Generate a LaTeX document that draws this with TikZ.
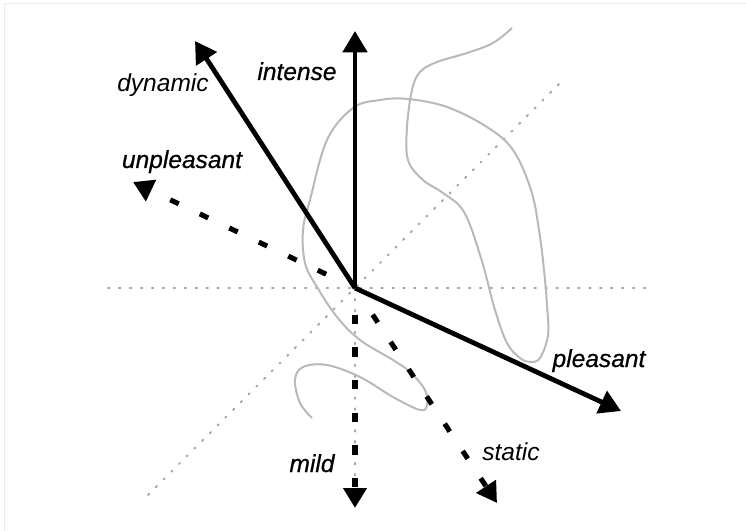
\documentclass[tikz,border=0pt]{standalone}
\usepackage{fontspec}
\setmainfont{Liberation Sans}
\newfontfamily\heavylab[FakeBold=0.7]{Liberation Sans}
\usetikzlibrary{arrows.meta}
\tikzset{
  axis/.style={line width=3.6pt, -{Triangle[length=16pt,width=18pt]}},
  daxis/.style={line width=3.8pt, dash pattern=on 7pt off 17.5pt, -{Triangle[length=15pt,width=17pt]}},
  guide/.style={line width=1.4pt, color=gray!70, dash pattern=on 1.2pt off 7pt, line cap=round},
  blob/.style={line width=1.5pt, color=gray!55},
  lab/.style={font=\fontsize{18.4}{20}\selectfont\itshape, inner sep=0pt, anchor=base},
  hlab/.style={font=\heavylab\fontsize{18.4}{20}\selectfont\itshape, inner sep=0pt, anchor=base},
}
\begin{document}
\begin{tikzpicture}[x=0.75pt, y=-0.75pt]
\useasboundingbox (0,0) rectangle (746,531);
% frame
\draw[line width=0.9pt, color=gray!15] (4.5,531) -- (4.5,3.5) -- (746,3.5);
% coordinates
\coordinate (O) at (355,288);
\coordinate (tInt) at (355,31);
\coordinate (tDyn) at (195,41);
\coordinate (tPle) at (621,411);
\coordinate (tUnp) at (133,182);
\coordinate (tMil) at (355,508);
\coordinate (tSta) at (497,503);
\coordinate (hL) at (108,288);
\coordinate (hR) at (650,288);
\coordinate (dL) at (148,495);
\coordinate (dR) at (564,79);
\coordinate (vB) at (355,490);
% guides
\draw[guide] (hL) -- (hR);
\draw[guide] (dL) -- (dR);
\draw[guide] (O) -- (vB);
% gray curve
\draw[blob] plot[smooth, tension=0.6] coordinates {
 (512,28) (493,43) (467,53) (437,62) (420,72) (412,90) (407,127) (408,160)
 (423,180) (443,193) (464,212) (481,258) (495,310) (507,343) (520,358)
 (530,362) (540,358) (548,335) (547,305) (544,270) (539,230) (531,190)
 (513,150) (487,127) (447,107) (408,99) (380,100) (353,108) (327,140)
 (310,200) (303,230) (305,263) (317,287) (337,317) (360,340) (393,360)
 (410,372) (425,390) (427,405) (420,410) (393,397) (360,377) (327,365)
 (303,367) (295,380) (300,403) (312,418)};
% dashed axes
\draw[daxis, shorten <=24pt] (O) -- (tUnp);
\draw[daxis, shorten <=20pt] (O) -- (tMil);
\draw[daxis, shorten <=24pt] (O) -- (tSta);
% solid axes
\draw[axis] (O) -- (tInt);
\draw[axis] (O) -- (tDyn);
\draw[axis] (O) -- (tPle);
% labels
\node[lab] (lDyn) at (163,92) {dynamic};
\node[hlab] (lInt) at (297,80) {intense};
\node[hlab] (lUnp) at (182,168) {unpleasant};
\node[hlab] (lPle) at (599,367) {pleasant};
\node[hlab] (lMil) at (312,472) {mild};
\node[lab] (lSta) at (511,460) {static};
\end{tikzpicture}
\end{document}
